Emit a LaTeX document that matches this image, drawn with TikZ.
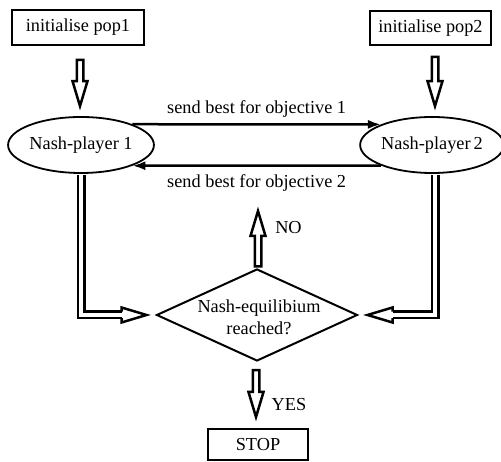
\documentclass[tikz,border=0pt]{standalone}
\usepackage{fontspec}
\setmainfont{Liberation Serif}
\usetikzlibrary{shapes.geometric,calc,arrows.meta}
\tikzset{
  every node/.style={font=\fontsize{18.3pt}{22pt}\selectfont},
  boxnode/.style={draw, line width=1.8pt, inner sep=0pt},
  playernode/.style={draw, ellipse, line width=1.8pt, fill=white, minimum width=140pt, minimum height=56pt, inner sep=0pt},
  decnode/.style={draw, diamond, line width=2pt, minimum width=201pt, minimum height=92pt, inner sep=0pt},
  msg/.style={line width=2.5pt, -{Latex[length=13pt,width=9pt]}},
  hollow/.style={line width=2.5pt, line join=miter, miter limit=10},
  dblline/.style={line width=2.5pt, double=white, double distance=4pt, line join=miter},
}
% closed hollow block arrow from #1 (start) to #2 (tip)
\newcommand{\blockarrow}[2]{%
  \coordinate (bh) at ($(#2)!25pt!(#1)$);
  \draw[hollow] ($(#1)!3.25pt!90:(#2)$) -- ($(bh)!3.25pt!90:(#2)$) -- ($(bh)!7.5pt!90:(#2)$) -- (#2)
    -- ($(bh)!7.5pt!-90:(#2)$) -- ($(bh)!3.25pt!-90:(#2)$) -- ($(#1)!3.25pt!-90:(#2)$) -- cycle;
}
% open hollow head with base #1 and tip #2
\newcommand{\openhead}[2]{%
  \draw[hollow] ($(#1)!3.25pt!90:(#2)$) -- ($(#1)!7.5pt!90:(#2)$) -- (#2)
    -- ($(#1)!7.5pt!-90:(#2)$) -- ($(#1)!3.25pt!-90:(#2)$);
}
\begin{document}
\begin{tikzpicture}[x=1pt,y=1pt]
\useasboundingbox (0,0) rectangle (501,462);
\node[boxnode, minimum width=132pt, minimum height=35pt] (p1) at (78,434.5) {initialise pop1};
\node[boxnode, minimum width=121pt, minimum height=34pt] (p2) at (430.5,434) {initialise pop2};
\node[playernode] (n1) at (81,317) {Nash-player 1};
\node[playernode] (n2) at (432,317) {Nash-player\,2};
\node[decnode] (d) at (257,147) {};
\node[inner sep=0pt, align=center] (dt) at (259,144.5) {Nash-equilibium\\reached?};
\node[boxnode, minimum width=100pt, minimum height=31pt] (stop) at (258,17.5) {STOP};

% messages between players
\draw[msg] (n1.22) -- node[above=6pt, inner sep=0pt] (m1) {send best for objective 1} (n2.158);
\draw[msg] (n2.-158) -- node[below=8pt, inner sep=0pt] (m2) {send best for objective 2} (n1.-22);

% initialise -> players
\coordinate (a1s) at ($(p1.south)+(2,-14)$);
\coordinate (a1t) at ($(n1.north)+(-1,10)$);
\blockarrow{a1s}{a1t}
\coordinate (a2s) at ($(p2.south)+(4.5,-11)$);
\coordinate (a2t) at ($(n2.north)+(3,10)$);
\blockarrow{a2s}{a2t}

% NO arrow
\coordinate (nos) at ($(d.north)+(1,1.5)$);
\coordinate (not) at ($(d.north)+(1,57)$);
\blockarrow{nos}{not}
\node (lno) at (288.5,234) {NO};

% YES arrow
\coordinate (yss) at ($(d.south)+(-1,-8.25)$);
\coordinate (yst) at ($(d.south)+(-1,-55)$);
\blockarrow{yss}{yst}
\node (lyes) at (289,57) {YES};

% players -> decision
\coordinate (l1a) at ($(n1.south)+(0,-1)$);
\coordinate (l1h) at ($(d.west)+(-34,0)$);
\coordinate (l1b) at ($(d.west)+(-9,0)$);
\draw[dblline] (l1a) |- (l1h);
\openhead{l1h}{l1b}
\coordinate (r1a) at ($(n2.south)+(3,-1)$);
\coordinate (r1h) at ($(d.east)+(34,0)$);
\coordinate (r1b) at ($(d.east)+(9,0)$);
\draw[dblline] (r1a) |- (r1h);
\openhead{r1h}{r1b}
\end{tikzpicture}
\end{document}
